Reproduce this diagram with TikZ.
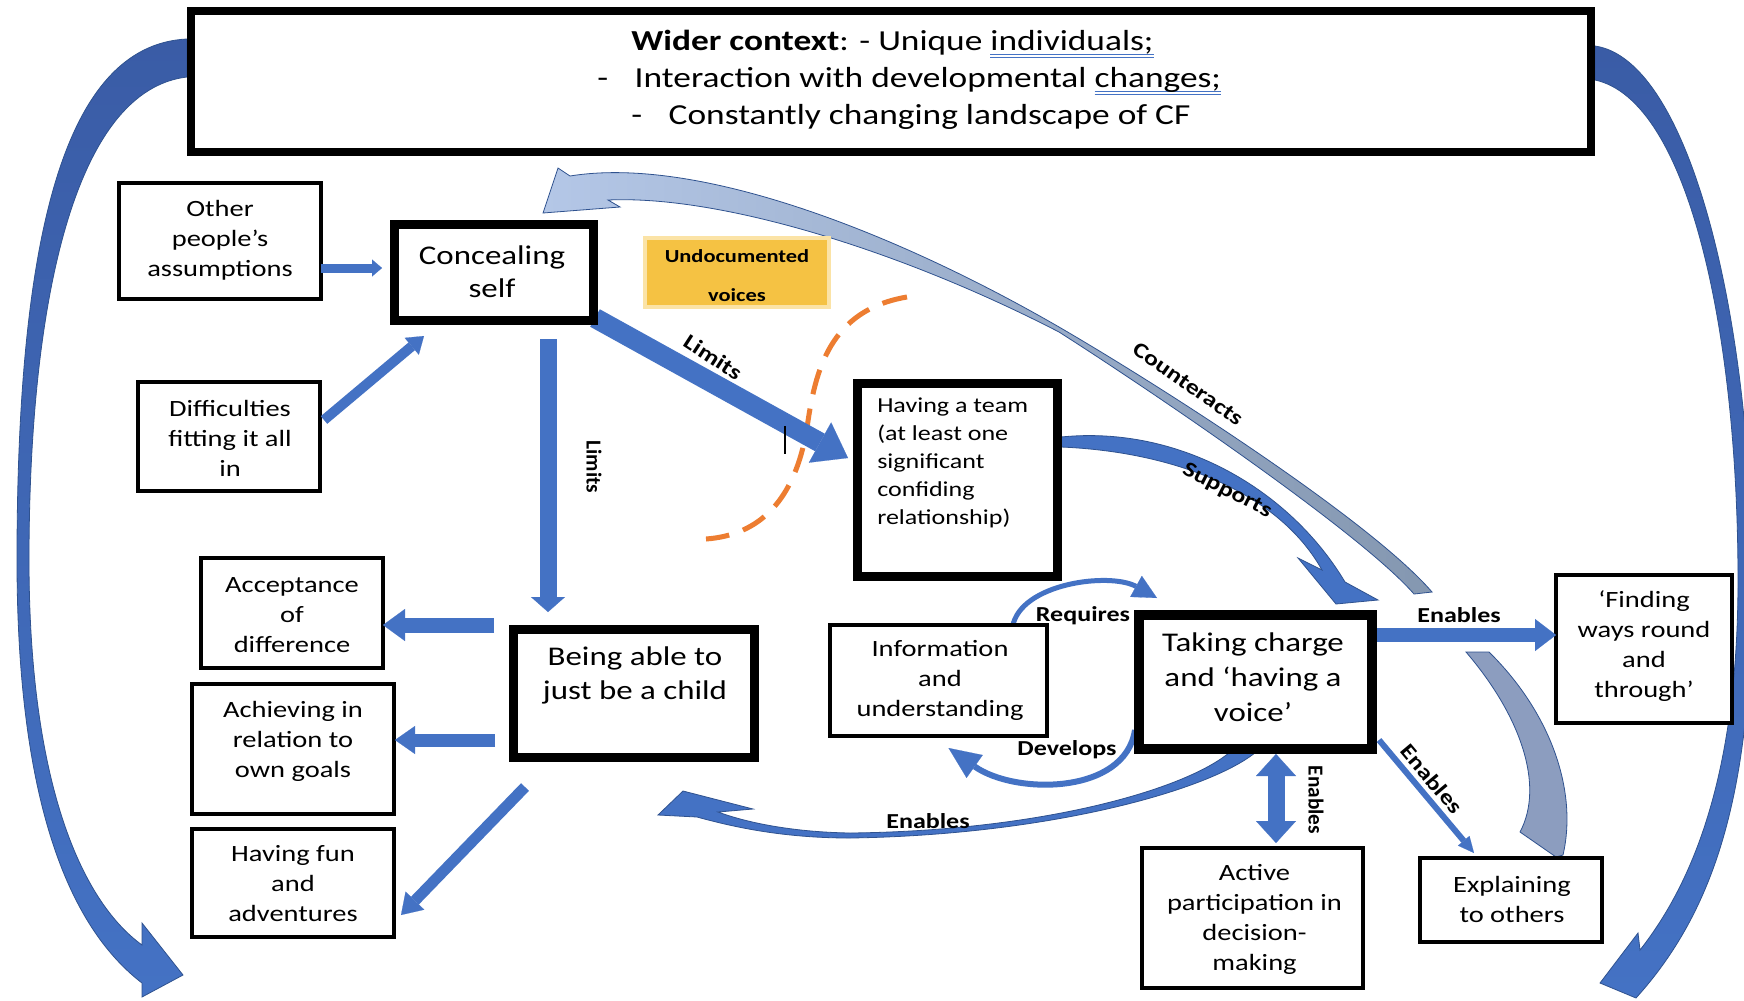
\documentclass[tikz,border=0pt]{standalone}
\usepackage{fontspec}
\setmainfont{Carlito}[FakeStretch=1.22]
\newfontfamily\vfont{Carlito}
\usetikzlibrary{arrows.meta,fit,calc}
\definecolor{ablue}{HTML}{4472C4}
\definecolor{adark}{HTML}{3A5CA6}
\definecolor{aedge}{HTML}{2F528F}
\definecolor{clight}{HTML}{B4C7E7}
\definecolor{cgrey}{HTML}{8497B0}
\definecolor{gband}{HTML}{8C9DBF}
\definecolor{ofill}{HTML}{F5C243}
\definecolor{ohalo}{HTML}{FBE3A6}
\definecolor{odash}{HTML}{ED7D31}
\definecolor{ulc}{HTML}{4472C4}
\newcommand\dblul[1]{\setbox0=\hbox{#1}\rlap{\textcolor{ulc}{\rule[-3pt]{\wd0}{0.7pt}}}\rlap{\textcolor{ulc}{\rule[-5.2pt]{\wd0}{0.7pt}}}\box0}
\pgfdeclarelayer{bg}
\pgfdeclarelayer{back}
\pgfsetlayers{bg,back,main}
\tikzset{
  thinbox/.style={draw=black, line width=2.4pt, fill=white, inner sep=0pt, outer sep=0pt},
  thickbox/.style={draw=black, line width=6.75pt, fill=white, inner sep=0pt, outer sep=0pt},
  stxt/.style={font=\fontsize{17.5pt}{22.5pt}\selectfont, align=center, inner sep=0pt},
  btxt/.style={font=\fontsize{20.25pt}{25.5pt}\selectfont, align=center, inner sep=0pt},
  lbl/.style={font=\fontsize{16pt}{19pt}\selectfont\bfseries, inner sep=0pt},
  vlbl/.style={font=\vfont\fontsize{16pt}{19pt}\selectfont\bfseries, inner sep=0pt},
  blk/.style={draw=ablue, line width=#1},
  shape edge/.style={draw=aedge, line width=0.6pt},
}
\begin{document}
\begin{tikzpicture}[x=0.75pt,y=-0.75pt]
\useasboundingbox (0,0) rectangle (1744,1000);
\begin{pgfonlayer}{bg}
\fill[white] (0,0) rectangle (1744,1000);
\end{pgfonlayer}

% ---------- boxes ----------
\node[thickbox, line width=6.4pt, fit={(191,11) (1591,152)}] (top) {};
\node[thickbox, fit={(394,224) (593,320)}] (conceal) {};
\node[thinbox, fit={(119,183) (321,299)}] (other) {};
\node[thinbox, fit={(138,382) (320,491)}] (diff) {};
\node[thinbox, fit={(201,558) (383,668)}] (accept) {};
\node[thinbox, fit={(192,684) (394,814)}] (achieve) {};
\node[thinbox, fit={(192,829) (394,937)}] (fun) {};
\node[thickbox, fit={(513,629) (754,757)}] (being) {};
\node[thickbox, fit={(857,383) (1057,576)}] (team) {};
\node[thinbox, fit={(830,625) (1047,736)}] (info) {};
\node[thickbox, line width=7.5pt, fit={(1139,615) (1372,749)}] (taking) {};
\node[thinbox, fit={(1556,575) (1732,723)}] (finding) {};
\node[thinbox, fit={(1420,858) (1602,942)}] (explain) {};
\node[thinbox, fit={(1142,848) (1363,988)}] (active) {};

\begin{pgfonlayer}{back}
% ---------- big outer arcs ----------
\path[top color=adark, bottom color=ablue, shape edge]
  (187,39) .. controls (60,45) and (17,250) .. (17,560)
  .. controls (17,780) and (60,920) .. (142,983)
  -- (142,997) -- (183,975) -- (142,923) -- (142,945)
  .. controls (80,900) and (29,780) .. (29,560)
  .. controls (29,300) and (75,90) .. (187,77) -- cycle;
\path[top color=adark, bottom color=ablue, shape edge]
  (1595,46) .. controls (1690,60) and (1752,320) .. (1752,580)
  .. controls (1752,780) and (1720,900) .. (1643,990)
  -- (1636,998) -- (1600,983) -- (1638,933) -- (1640,950)
  .. controls (1695,880) and (1738,770) .. (1738,580)
  .. controls (1738,330) and (1688,100) .. (1595,80) -- cycle;

% ---------- Counteracts (taking -> concealing) ----------
\path[left color=clight, right color=cgrey, shape edge]
  (570,176) .. controls (700,155) and (900,235) .. (1059,327)
  .. controls (1159,385) and (1370,520) .. (1432,592)
  -- (1414,594) .. controls (1360,532) and (1150,390) .. (1059,332)
  .. controls (900,250) and (720,195) .. (608,200)
  -- (620,207) -- (543,213) -- (558,168) -- cycle;

% ---------- Supports (team -> taking) ----------
\path[fill=ablue, shape edge]
  (1061,437) .. controls (1180,425) and (1290,490) .. (1345,582)
  -- (1378,600) -- (1336,604) -- (1298,558) -- (1322,570)
  .. controls (1280,495) and (1180,452) .. (1061,447) -- cycle;

% ---------- Enables (taking -> being) ----------
\path[fill=ablue, shape edge]
  (1256,752) .. controls (1210,790) and (1050,835) .. (850,838)
  .. controls (780,838) and (730,826) .. (697,817)
  -- (658,815) -- (683,791) -- (753,809) -- (718,812)
  .. controls (745,822) and (790,832) .. (850,833)
  .. controls (1040,831) and (1185,790) .. (1230,752) -- cycle;

% ---------- grey band ----------
\path[fill=gband, shape edge]
  (1466,652) .. controls (1520,715) and (1545,785) .. (1520,832)
  -- (1556,857) -- (1563,855)
  .. controls (1578,790) and (1550,712) .. (1489,652) -- cycle;

% ---------- orange dashed arc ----------
\draw[odash, line width=3.75pt, dash pattern=on 19pt off 11pt]
  (907,297) .. controls (830,310) and (815,370) .. (807,428)
  .. controls (795,500) and (760,535) .. (706,539);

% ---------- connectors partly hidden behind boxes ----------
\draw[blk=15pt, -{Triangle[length=24pt,width=34.5pt,line width=0.1pt]}]
  ($(conceal.south east)+(2,-2)$) -- ($(team.west)+(-9,-21.5)$);
\draw[blk=3.75pt, -{Triangle[length=18pt,width=18pt,line width=0.1pt]}]
  ($(info.north)+(74,2)$) .. controls (1020,583) and (1110,572) .. ($(taking.north west)+(18,-17)$);
\draw[blk=4.5pt, -{Triangle[length=24pt,width=21pt,line width=0.1pt]}]
  ($(taking.west)+(-4,48)$) .. controls (1125,795) and (1015,795) .. ($(info.south)+(10,12)$);
\end{pgfonlayer}

% ---------- straight connectors ----------
\draw[blk=6.75pt, -{Triangle[length=7.5pt,width=12.75pt,line width=0.1pt]}]
  ($(other.east)+(0,27)$) -- ($(conceal.west)+(-12,-4)$);
\draw[blk=7.5pt, -{Triangle[length=12pt,width=16.5pt,line width=0.1pt]}]
  ($(diff.east)+(4,-16.5)$) -- ($(conceal.south west)+(30,16)$);
\draw[blk=12.75pt, -{Triangle[length=11.25pt,width=25.5pt,line width=0.1pt]}]
  ($(conceal.south)+(54.5,19)$) -- ($(being.north)+(-85.5,-17)$);
\draw[blk=11.25pt, -{Triangle[length=16.5pt,width=24pt,line width=0.1pt]}]
  ($(being.north west)+(-19,-4)$) -- ($(accept.east)+(0,12)$);
\draw[blk=9.75pt, -{Triangle[length=15pt,width=21pt,line width=0.1pt]}]
  ($(being.west)+(-18,47)$) -- ($(achieve.east)+(1,-9)$);
\draw[blk=8.25pt, -{Triangle[length=15pt,width=19.5pt,line width=0.1pt]}]
  ($(being.south west)+(12,30)$) -- ($(fun.east)+(7,32)$);
\draw[blk=10.5pt, -{Triangle[length=15.75pt,width=24pt,line width=0.1pt]}]
  ($(taking.east)+(5,-47)$) -- ($(finding.west)+(0,-14)$);
\draw[blk=4.5pt, -{Triangle[length=12pt,width=11.25pt,line width=0.1pt]}]
  ($(taking.south east)+(7,-9)$) -- ($(explain.north)+(-37,-5)$);
\draw[blk=12.75pt, {Triangle[length=16.5pt,width=30pt,line width=0.1pt]}-{Triangle[length=16.5pt,width=30pt,line width=0.1pt]}]
  ($(taking.south)+(20.5,5)$) -- ($(active.north)+(23.5,-5)$);

% ---------- orange note ----------
\fill[ohalo] (643,236) rectangle (831,309);
\node[fill=ofill, inner sep=0pt, fit={(647,240) (827,305)}] (undoc) {};
\draw[black, line width=1pt] (785,426) -- (785,454);

% ---------- texts ----------
\node[anchor=west, align=left, inner sep=0pt, font=\fontsize{21.75pt}{27.75pt}\selectfont] (topt) at (597,80)
  {\hspace*{25.5pt}\textbf{Wider context}: - Unique \dblul{individuals;}\\
   -\hspace{20pt}Interaction with developmental \dblul{changes;}\\
   \hspace*{25.5pt}-\hspace{20pt}Constantly changing landscape of CF};
\node[stxt] (othert) at (220,240.5) {Other\\people’s\\assumptions};
\node[btxt, font=\fontsize{20.25pt}{24.75pt}\selectfont] (concealt) at (492,271.5) {Concealing\\self};
\node[align=center, inner sep=0pt, font=\fontsize{13.8pt}{29pt}\selectfont\bfseries] (undoct) at (737,275.5) {Undocumented\\voices};
\node[stxt] (difft) at (230,438) {Difficulties\\fitting it all\\in};
\node[stxt] (acceptt) at (292,615) {Acceptance\\of\\difference};
\node[stxt] (achievet) at (293,741.5) {Achieving in\\relation to\\own goals};
\node[stxt] (funt) at (293,883.5) {Having fun\\and\\adventures};
\node[btxt] (beingt) at (635,675.5) {Being able to\\just be a child};
\node[anchor=west, align=left, inner sep=0pt, font=\fontsize{16pt}{21pt}\selectfont] (teamt) at (877,463)
  {Having a team\\(at least one\\significant\\confiding\\relationship)};
\node[stxt] (infot) at (940,680) {Information\\and\\understanding};
\node[btxt, font=\fontsize{20.25pt}{26.25pt}\selectfont] (takingt) at (1253,677) {Taking charge\\and ‘having a\\voice’};
\node[stxt] (findingt) at (1644,646.5) {‘Finding\\ways round\\and\\through’};
\node[stxt] (explaint) at (1512,899) {Explaining\\to others};
\node[stxt] (activet) at (1254.5,919.5) {Active\\participation in\\decision-\\making};

% ---------- connector labels ----------
\node[lbl, rotate=-33] (lLimA) at (713,357) {Limits};
\node[vlbl, rotate=-90] (lLimB) at (594,467) {Limits};
\node[lbl, rotate=-35] (lCounter) at (1188,384) {Counteracts};
\node[lbl, rotate=-27] (lSupports) at (1227,491) {Supports};
\node[lbl] (lEnA) at (1459,615) {Enables};
\node[lbl, rotate=-50] (lEnB) at (1432,779) {Enables};
\node[vlbl, rotate=-90] (lEnC) at (1316,800) {Enables};
\node[lbl] (lEnD) at (928,821) {Enables};
\node[lbl] (lReq) at (1083,616) {Requires};
\node[lbl] (lDev) at (1067,750) {Develops};
\end{tikzpicture}
\end{document}
